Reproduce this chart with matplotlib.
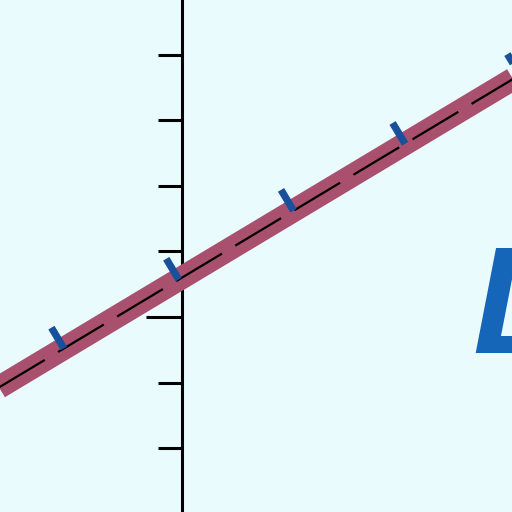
import numpy as np
import matplotlib.pyplot as plt

# recta y = 0.6 + 0.6 x (puntos extremos)
line_x = [-3.0, 5.5]
line_y = [-1.2, 3.9]

# marcas azules sobre la recta
mark_x = [-1.8, -0.05, 1.7, 3.4, 5.15]
mark_y = [-0.48, 0.57, 1.62, 2.64, 3.69]

# marcas del eje vertical
tick_y = [4, 3, 2, 1, 0, -1, -2, -3]

fig = plt.figure(figsize=(5.12, 5.12), dpi=100)
fig.patch.set_facecolor("#e9fbfd")
ax = fig.add_axes([0, 0, 1, 1])
ax.set_facecolor("#e9fbfd")
ax.set_xlim(-2.774, 5.030)
ax.set_ylim(-2.973, 4.832)
ax.axis("off")

# eje vertical
ax.plot([0, 0], [-3.2, 5.0], color="black", lw=2.2, solid_capstyle="butt")
for t in tick_y:
    l = 0.55 if t == 0 else 0.366
    ax.plot([-l, 0], [t, t], color="black", lw=2.2, solid_capstyle="butt")

# recta gruesa con trazo discontinuo
ax.plot(line_x, line_y, color="#a9506f", lw=16.5, solid_capstyle="butt")
ax.plot(line_x, line_y, color="black", lw=1.6, dashes=(24, 7))

# marcas perpendiculares
d = np.array([-0.6, 1.0]) / np.hypot(0.6, 1.0) * 0.37
for mx, my in zip(mark_x, mark_y):
    ax.plot([mx, mx + d[0]], [my, my + d[1]], color="#1a4f9c", lw=5.2,
            solid_capstyle="butt")

# letra
ax.text(4.42, -0.55, "L", color="#1565b8", fontsize=110, fontweight="bold",
        fontstyle="italic", ha="left", va="baseline", family="Liberation Sans")

fig.savefig("out.png", dpi=100, facecolor=fig.get_facecolor())
